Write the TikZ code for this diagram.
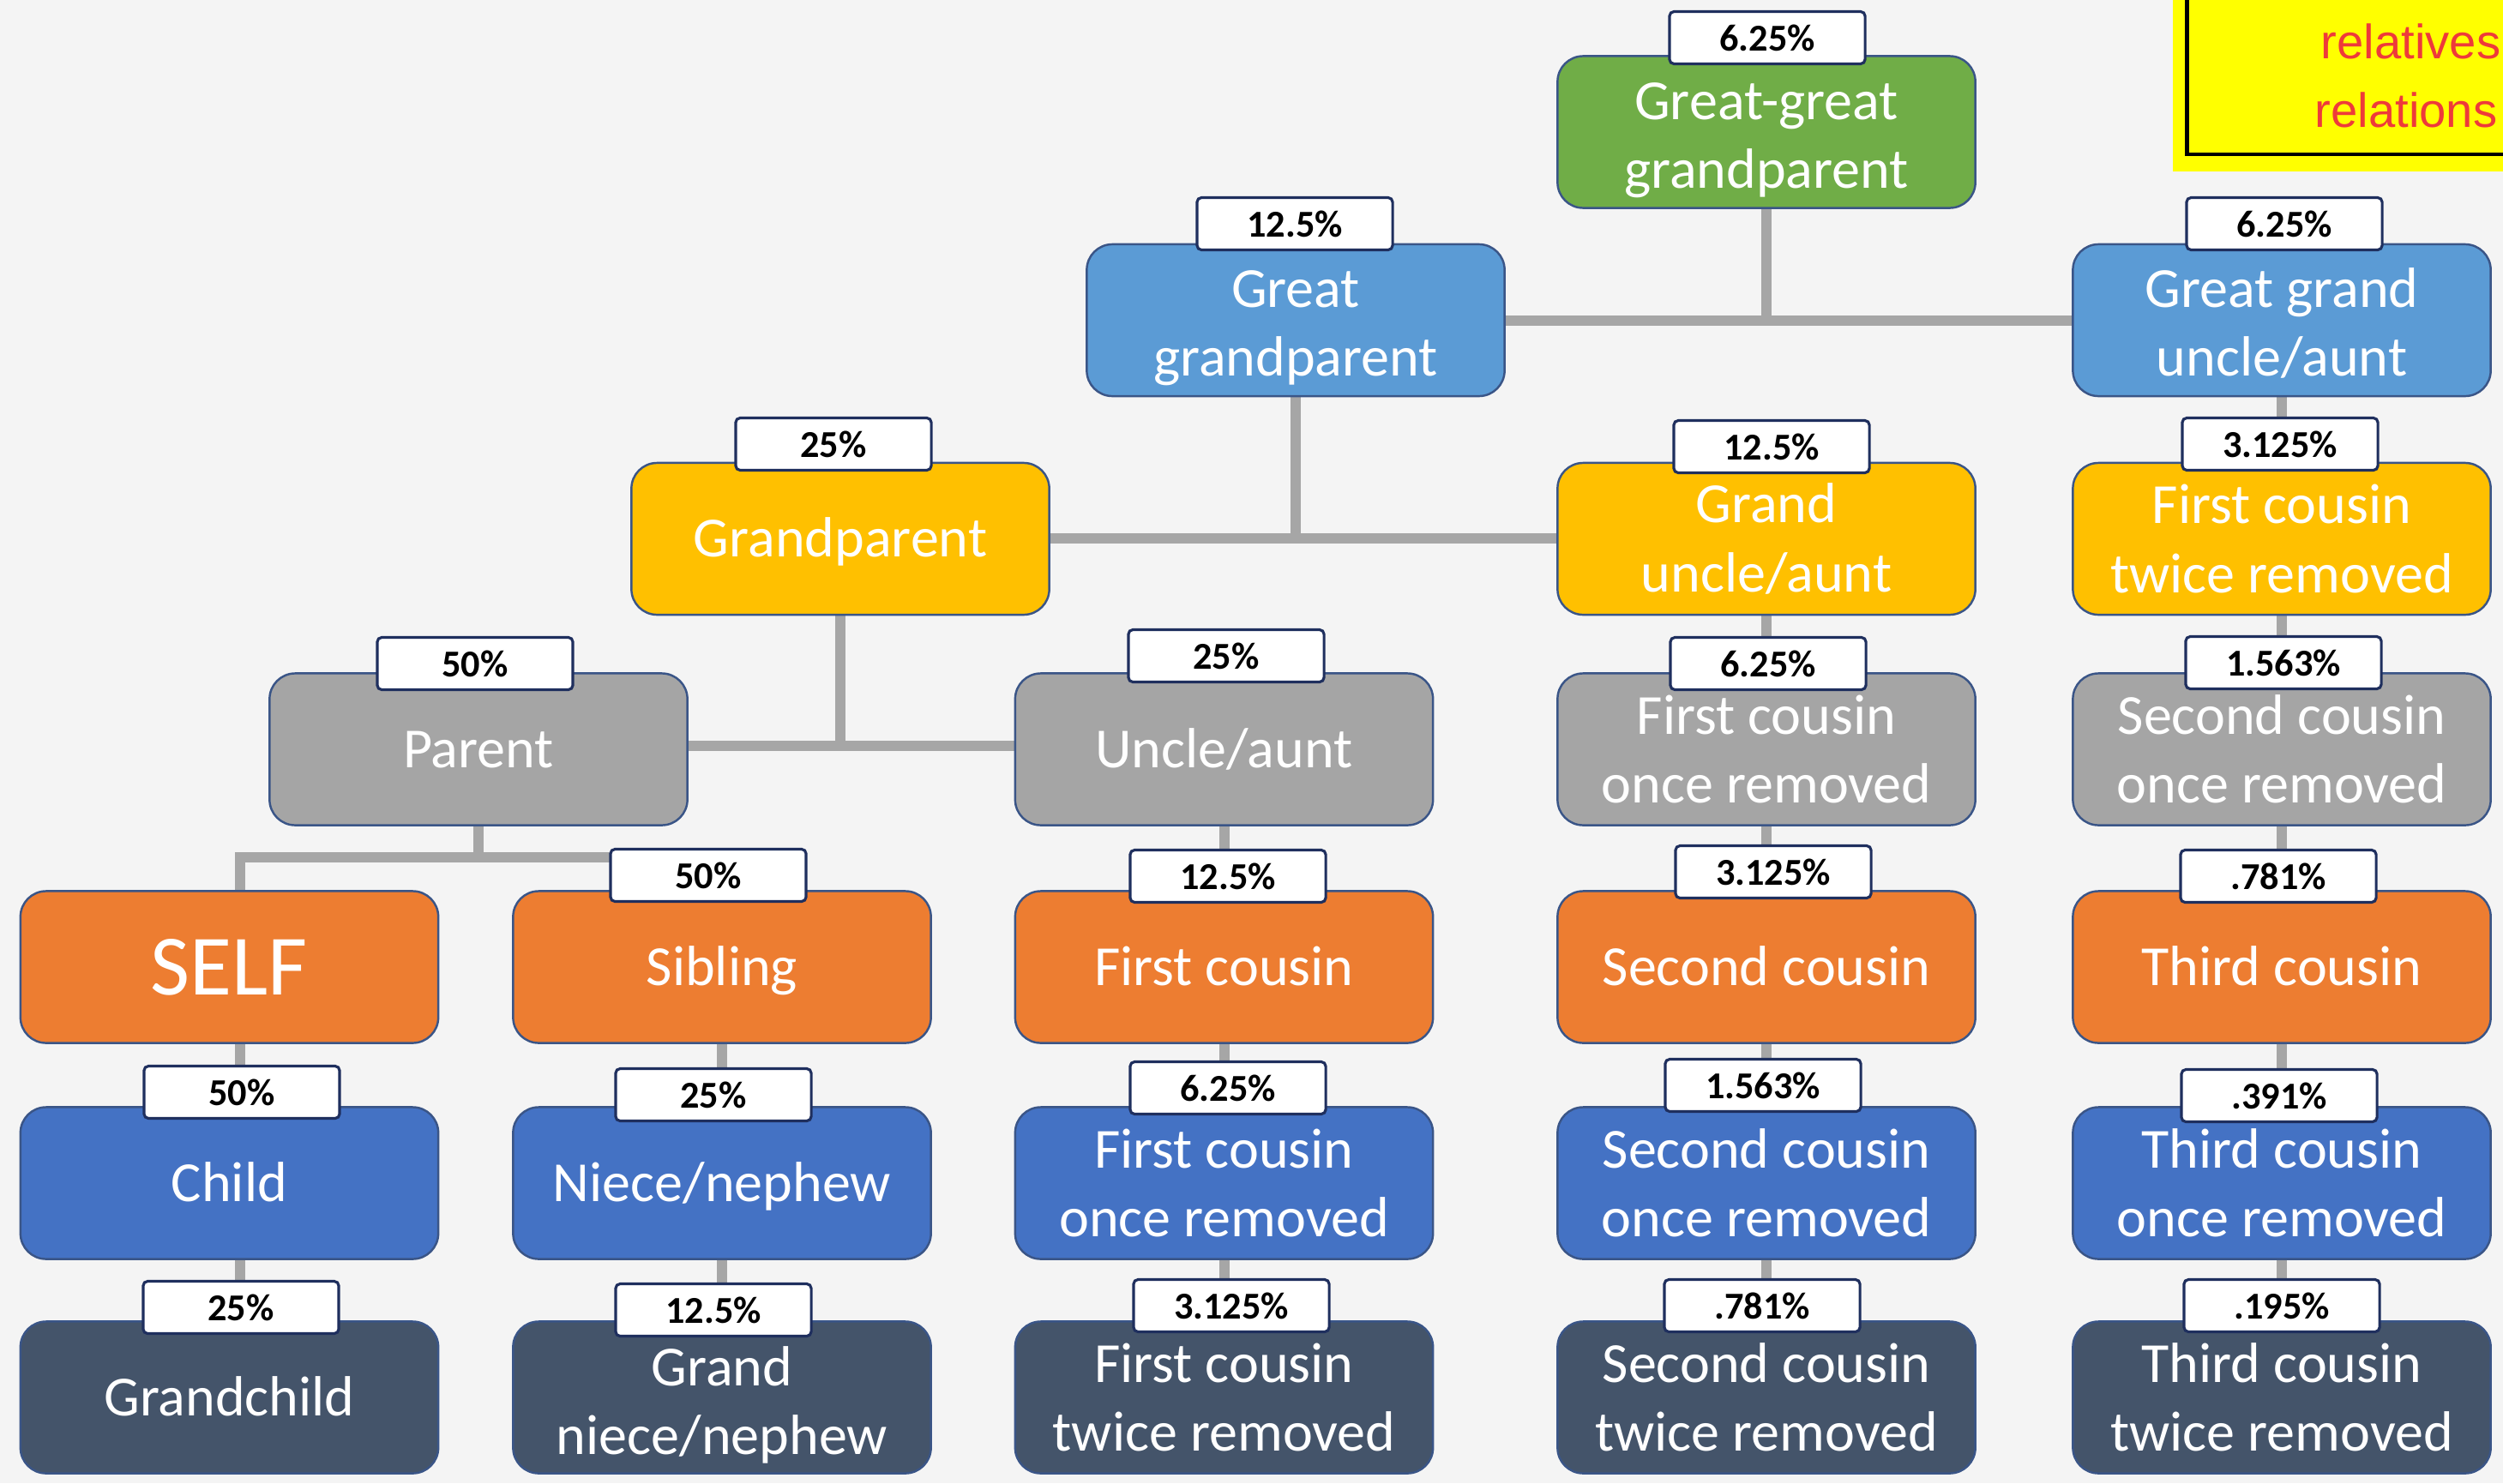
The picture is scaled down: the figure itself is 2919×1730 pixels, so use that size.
\documentclass[tikz,border=0pt]{standalone}
\usepackage{fontspec}
\setmainfont{Carlito}
\newfontfamily\arialfont{Liberation Sans}
\usetikzlibrary{calc,backgrounds}
\definecolor{bgc}{HTML}{F4F4F4}
\definecolor{cgreen}{HTML}{70AD47}
\definecolor{clblue}{HTML}{5B9BD5}
\definecolor{cgold}{HTML}{FFC000}
\definecolor{cgray}{HTML}{A5A5A5}
\definecolor{corange}{HTML}{ED7D31}
\definecolor{cblue}{HTML}{4472C4}
\definecolor{cslate}{HTML}{44546A}
\definecolor{boxedge}{HTML}{3A5587}
\definecolor{pctedge}{HTML}{1F2F5E}
\definecolor{conncol}{HTML}{A6A6A6}
\definecolor{cyellow}{HTML}{FFFF00}
\definecolor{cred}{HTML}{EE3A3A}
\newcommand\lift[1]{\rule{0pt}{#1}}
\begin{document}
\begin{tikzpicture}[x=0.01cm,y=-0.01cm,
  box/.style={rectangle, rounded corners=8.5pt, draw=boxedge, line width=0.7pt,
    minimum width=4.87cm, minimum height=1.77cm, inner sep=0pt, align=center,
    text=white, font=\fontsize{18.8}{22.8}\selectfont},
  one/.style={text height=12.1pt, text depth=0pt},
  pct/.style={rectangle, rounded corners=1.5pt, draw=pctedge, line width=0.9pt,
    fill=white, minimum width=2.28cm, minimum height=0.61cm, inner sep=0pt,
    text=black, font=\bfseries\fontsize{12.6}{14}\selectfont},
  conn/.style={draw=conncol, line width=3.4pt, line join=miter}]
\useasboundingbox (0,0) rectangle (2919,1730);

% yellow note (clipped at the right edge)
\draw[line width=1.4pt] (2550,0) -- (2550,180) -- (2919,180);
\node[anchor=base west, inner sep=0pt, text=cred, font=\arialfont\fontsize{16}{19}\selectfont] (rel1) at (2706,68) {relatives};
\node[anchor=base west, inner sep=0pt, text=cred, font=\arialfont\fontsize{16}{19}\selectfont] (rel2) at (2699,148) {relations};

% boxes
\node[box, fill=cgreen] (gg) at (2060,154) {\lift{17.5pt}Great-great\\grandparent};
\node[box, fill=clblue] (ggp) at (1511,373.5) {\lift{17.5pt}Great\\grandparent};
\node[box, fill=clblue] (ggu) at (2661,373.5) {\lift{15pt}Great grand\\uncle/aunt};
\node[box, one, fill=cgold] (gp) at (980,628.5) {Grandparent};
\node[box, fill=cgold] (gu) at (2060,628.5) {Grand\\uncle/aunt};
\node[box, fill=cgold] (fctrA) at (2661,628.5) {First cousin\\twice removed};
\node[box, one, fill=cgray] (parent) at (558,874) {Parent};
\node[box, one, fill=cgray] (uncle) at (1427.5,874) {Uncle/aunt};
\node[box, fill=cgray] (fcorA) at (2060,874) {First cousin\\once removed};
\node[box, fill=cgray] (scorA) at (2661,874) {Second cousin\\once removed};
\node[box, fill=corange, font=\fontsize{28.5}{32}\selectfont, text height=18.4pt, text depth=0pt] (self) at (267.5,1128) {SELF};
\node[box, one, fill=corange] (sib) at (842,1128) {Sibling};
\node[box, one, fill=corange] (fc) at (1427.5,1128) {First cousin};
\node[box, one, fill=corange] (sc) at (2060,1128) {Second cousin};
\node[box, one, fill=corange] (tc) at (2661,1128) {Third cousin};
\node[box, one, fill=cblue] (child) at (267.5,1380) {Child};
\node[box, one, fill=cblue] (niece) at (842,1380) {Niece/nephew};
\node[box, fill=cblue] (fcor) at (1427.5,1380) {First cousin\\once removed};
\node[box, fill=cblue] (scor) at (2060,1380) {Second cousin\\once removed};
\node[box, fill=cblue] (tcor) at (2661,1380) {Third cousin\\once removed};
\node[box, one, fill=cslate] (gchild) at (267.5,1630) {Grandchild};
\node[box, fill=cslate] (gniece) at (842,1630) {\lift{18pt}Grand\\niece/nephew};
\node[box, fill=cslate] (fctr) at (1427.5,1630) {First cousin\\twice removed};
\node[box, fill=cslate] (sctr) at (2060,1630) {Second cousin\\twice removed};
\node[box, fill=cslate] (tctr) at (2661,1630) {Third cousin\\twice removed};

% junctions
\coordinate (j1) at (2060,374);
\coordinate (j2) at (1511,628);
\coordinate (j3) at (980,870);
\coordinate (j4) at (558,1000);
\coordinate (j4a) at (280,1000);
\coordinate (j4b) at (827,1000);

% background and connectors (behind the boxes)
\begin{scope}[on background layer]
\fill[bgc] (0,0) rectangle (2919,1730);
\fill[cyellow] (2534,0) rectangle (2919,200);
\draw[conn] (gg.south) -- (j1);
\draw[conn] (ggp.east |- j1) -- (ggu.west |- j1);
\draw[conn] (ggp.south) -- (j2);
\draw[conn] (gp.east |- j2) -- (gu.west |- j2);
\draw[conn] (gp.south) -- (j3);
\draw[conn] (parent.east |- j3) -- (uncle.west |- j3);
\draw[conn] (parent.south) -- (j4);
\draw[conn] (self.north -| j4a) -- (j4a) -- (j4b) -- (sib.north -| j4b);
\draw[conn] (self.south -| j4a) -- (child.north -| j4a);
\draw[conn] (child.south -| j4a) -- (gchild.north -| j4a);
\draw[conn] (sib.south) -- (niece.north);
\draw[conn] (niece.south) -- (gniece.north);
\draw[conn] (uncle.south) -- (fc.north);
\draw[conn] (fc.south) -- (fcor.north);
\draw[conn] (fcor.south) -- (fctr.north);
\draw[conn] (gu.south) -- (fcorA.north);
\draw[conn] (fcorA.south) -- (sc.north);
\draw[conn] (sc.south) -- (scor.north);
\draw[conn] (scor.south) -- (sctr.north);
\draw[conn] (ggu.south) -- (fctrA.north);
\draw[conn] (fctrA.south) -- (scorA.north);
\draw[conn] (scorA.south) -- (tc.north);
\draw[conn] (tc.south) -- (tcor.north);
\draw[conn] (tcor.south) -- (tctr.north);
\end{scope}

% percentage labels
\node[pct] (lgg) at (2061,44) {6.25\%};
\node[pct] (lggp) at (1510,261) {12.5\%};
\node[pct] (lggu) at (2664,261) {6.25\%};
\node[pct] (lgp) at (972,518) {25\%};
\node[pct] (lgu) at (2066,521) {12.5\%};
\node[pct] (lfctrA) at (2659,518) {3.125\%};
\node[pct] (lparent) at (554,774) {50\%};
\node[pct] (luncle) at (1430,765) {25\%};
\node[pct] (lfcorA) at (2062,774) {6.25\%};
\node[pct] (lscorA) at (2663,773) {1.563\%};
\node[pct] (lsib) at (826,1021) {50\%};
\node[pct] (lfc) at (1432,1022) {12.5\%};
\node[pct] (lsc) at (2068,1017) {3.125\%};
\node[pct] (ltc) at (2657,1022) {.781\%};
\node[pct] (lchild) at (282,1274) {50\%};
\node[pct] (lniece) at (832,1277) {25\%};
\node[pct] (lfcor) at (1432,1269) {6.25\%};
\node[pct] (lscor) at (2056,1266) {1.563\%};
\node[pct] (ltcor) at (2658,1278) {.391\%};
\node[pct] (lgchild) at (281,1525) {25\%};
\node[pct] (lgniece) at (832,1528) {12.5\%};
\node[pct] (lfctr) at (1436,1523) {3.125\%};
\node[pct] (lsctr) at (2055,1523) {.781\%};
\node[pct] (ltctr) at (2661,1523) {.195\%};
\end{tikzpicture}
\end{document}
